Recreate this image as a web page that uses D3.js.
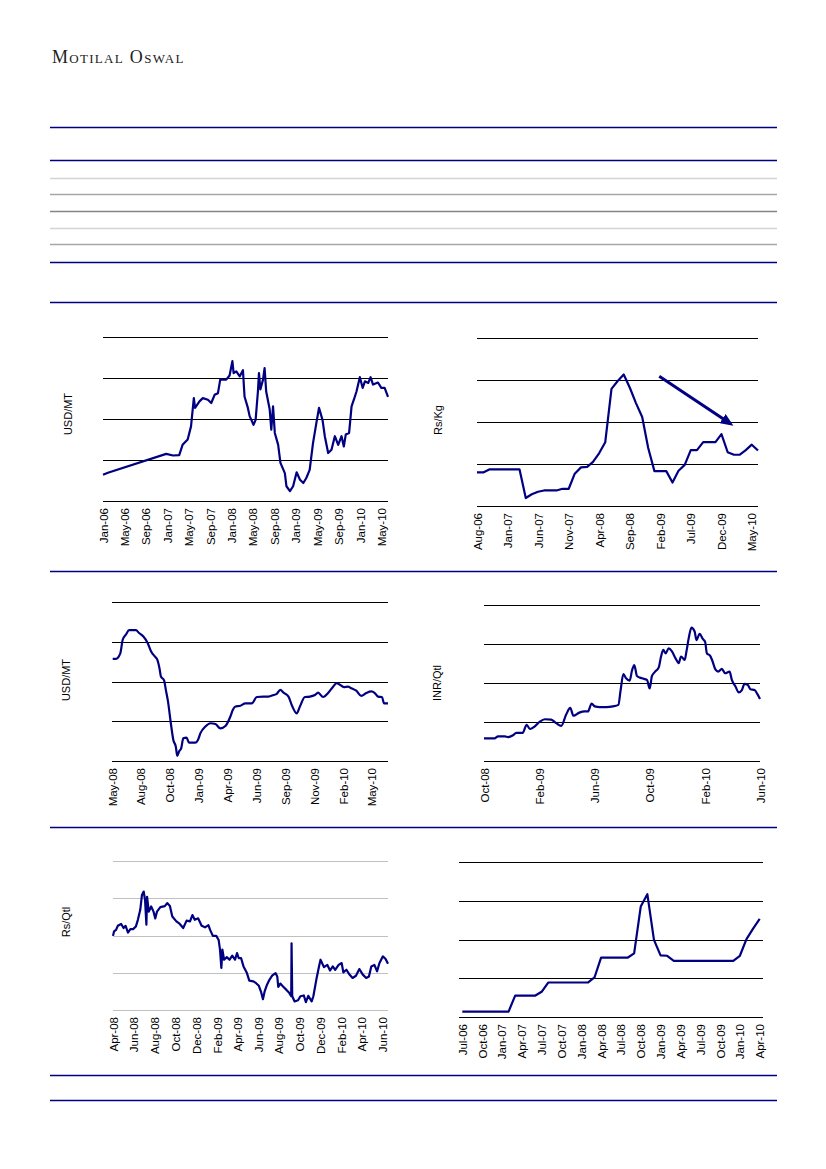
<!DOCTYPE html>
<html lang="en">

<head>
    <meta charset="UTF-8" />
    <script src="https://cdn.jsdelivr.net/npm/d3@7"></script>
    <title>Motilal Oswal - price charts</title>
    <style>
        body {
            margin: 0;
            background: #fff;
        }

        svg {
            display: block;
        }

        .tick text {
            font-family: "Liberation Sans", Arial, sans-serif;
            font-size: 11.5px;
            fill: #000;
        }
    </style>
</head>

<body>
    <svg width="826" height="1169"></svg>
</body>
<script>
    // values in grid units (0 = bottom line, 4 = top line)
    const yTicks = [0, 1, 2, 3, 4]

    // chart 1 - USD/MT
    const c1Dates = ["2006-01-01", "2006-01-29", "2006-12-26", "2007-02-03", "2007-03-10", "2007-03-29", "2007-04-27", "2007-05-16", "2007-06-01", "2007-06-08", "2007-07-03", "2007-07-22", "2007-08-20", "2007-09-08", "2007-09-27", "2007-10-16", "2007-10-29", "2007-12-02", "2007-12-21", "2008-01-06", "2008-01-13", "2008-01-28", "2008-02-17", "2008-03-06", "2008-03-15", "2008-04-03", "2008-04-13", "2008-05-05", "2008-05-17", "2008-05-30", "2008-06-05", "2008-06-13", "2008-06-28", "2008-07-07", "2008-07-16", "2008-08-05", "2008-08-14", "2008-08-24", "2008-09-03", "2008-09-22", "2008-10-05", "2008-10-30", "2008-11-08", "2008-11-28", "2008-12-16", "2009-01-05", "2009-01-24", "2009-02-12", "2009-03-01", "2009-03-20", "2009-04-08", "2009-04-27", "2009-05-12", "2009-06-01", "2009-06-14", "2009-07-03", "2009-07-22", "2009-08-10", "2009-08-29", "2009-09-17", "2009-09-30", "2009-10-11", "2009-10-30", "2009-11-13", "2009-11-26", "2009-12-11", "2009-12-30", "2010-01-15", "2010-01-28", "2010-02-16", "2010-03-01", "2010-03-15", "2010-04-12", "2010-05-01", "2010-05-20", "2010-06-08"]
    const c1Values = [0.64, 0.69, 1.15, 1.11, 1.12, 1.37, 1.50, 1.82, 2.51, 2.27, 2.43, 2.51, 2.47, 2.39, 2.59, 2.63, 2.96, 2.96, 3.06, 3.41, 3.12, 3.16, 3.04, 3.19, 2.55, 2.27, 2.07, 1.86, 1.98, 2.67, 3.12, 2.72, 2.96, 3.24, 2.67, 2.23, 1.74, 2.31, 1.66, 1.37, 0.93, 0.68, 0.36, 0.24, 0.36, 0.70, 0.52, 0.44, 0.56, 0.76, 1.41, 1.90, 2.27, 1.98, 1.58, 1.17, 1.25, 1.58, 1.37, 1.58, 1.33, 1.62, 1.66, 2.31, 2.47, 2.67, 3.02, 2.76, 2.92, 2.88, 3.02, 2.84, 2.89, 2.76, 2.76, 2.54]
    const c1TickLabels = ["Jan-06", "May-06", "Sep-06", "Jan-07", "May-07", "Sep-07", "Jan-08", "May-08", "Sep-08", "Jan-09", "May-09", "Sep-09", "Jan-10", "May-10"]

    // chart 2 - Rs/Kg, monthly
    const c2Months = ["Aug-06", "Sep-06", "Oct-06", "Nov-06", "Dec-06", "Jan-07", "Feb-07", "Mar-07", "Apr-07", "May-07", "Jun-07", "Jul-07", "Aug-07", "Sep-07", "Oct-07", "Nov-07", "Dec-07", "Jan-08", "Feb-08", "Mar-08", "Apr-08", "May-08", "Jun-08", "Jul-08", "Aug-08", "Sep-08", "Oct-08", "Nov-08", "Dec-08", "Jan-09", "Feb-09", "Mar-09", "Apr-09", "May-09", "Jun-09", "Jul-09", "Aug-09", "Sep-09", "Oct-09", "Nov-09", "Dec-09", "Jan-10", "Feb-10", "Mar-10", "Apr-10", "May-10", "Jun-10"]
    const c2Values = [0.80, 0.80, 0.87, 0.87, 0.87, 0.87, 0.87, 0.87, 0.19, 0.28, 0.34, 0.37, 0.37, 0.37, 0.41, 0.41, 0.77, 0.92, 0.93, 1.05, 1.26, 1.52, 2.79, 2.97, 3.13, 2.81, 2.45, 2.12, 1.38, 0.83, 0.83, 0.83, 0.56, 0.84, 0.98, 1.33, 1.33, 1.52, 1.52, 1.52, 1.71, 1.28, 1.22, 1.22, 1.33, 1.46, 1.32]
    const c2TickLabels = ["Aug-06", "Jan-07", "Jun-07", "Nov-07", "Apr-08", "Sep-08", "Feb-09", "Jul-09", "Dec-09", "May-10"]
    const c2ArrowDates = ["2009-01-25", "2010-01-17"]
    const c2ArrowValues = [3.09, 1.95]

    // chart 3 - USD/MT
    const c3Dates = ["2008-05-12", "2008-05-21", "2008-06-02", "2008-06-09", "2008-06-18", "2008-06-27", "2008-07-16", "2008-07-25", "2008-08-06", "2008-08-18", "2008-08-27", "2008-09-07", "2008-09-14", "2008-09-21", "2008-09-24", "2008-10-03", "2008-10-08", "2008-10-14", "2008-10-22", "2008-10-29", "2008-11-05", "2008-11-09", "2008-11-14", "2008-11-20", "2008-11-26", "2008-12-05", "2008-12-12", "2008-12-30", "2009-01-06", "2009-01-13", "2009-01-27", "2009-02-10", "2009-02-24", "2009-03-10", "2009-03-24", "2009-04-07", "2009-04-14", "2009-04-21", "2009-05-05", "2009-05-19", "2009-06-06", "2009-06-20", "2009-07-09", "2009-07-23", "2009-08-06", "2009-08-15", "2009-08-25", "2009-09-03", "2009-09-17", "2009-09-26", "2009-10-10", "2009-10-19", "2009-11-02", "2009-11-16", "2009-11-30", "2009-12-09", "2009-12-23", "2010-01-06", "2010-01-20", "2010-01-30", "2010-02-08", "2010-02-19", "2010-03-03", "2010-03-12", "2010-03-26", "2010-04-09", "2010-04-23", "2010-05-07", "2010-05-17", "2010-05-26", "2010-06-06", "2010-06-12", "2010-06-23"]
    const c3Values = [2.57, 2.57, 2.70, 3.05, 3.18, 3.29, 3.29, 3.22, 3.13, 2.97, 2.77, 2.63, 2.55, 2.29, 2.13, 2.03, 1.79, 1.50, 0.95, 0.53, 0.36, 0.13, 0.24, 0.32, 0.57, 0.59, 0.46, 0.46, 0.53, 0.70, 0.87, 0.95, 0.93, 0.82, 0.88, 1.12, 1.29, 1.37, 1.39, 1.45, 1.45, 1.61, 1.62, 1.62, 1.66, 1.69, 1.79, 1.72, 1.62, 1.41, 1.20, 1.37, 1.61, 1.62, 1.66, 1.72, 1.61, 1.71, 1.87, 1.96, 1.92, 1.86, 1.87, 1.83, 1.77, 1.64, 1.71, 1.75, 1.71, 1.62, 1.61, 1.45, 1.45]
    // the source axis places labels at an even step, not on month starts
    const c3TickDates = ["2008-05-10", "2008-07-30", "2008-10-19", "2009-01-08", "2009-03-30", "2009-06-19", "2009-09-08", "2009-11-28", "2010-02-17", "2010-05-09"]
    const c3TickLabels = ["May-08", "Aug-08", "Oct-08", "Jan-09", "Apr-09", "Jun-09", "Sep-09", "Nov-09", "Feb-10", "May-10"]

    // chart 4 - INR/Qtl
    const c4Dates = ["2008-10-01", "2008-10-24", "2008-11-01", "2008-11-16", "2008-11-23", "2008-12-04", "2008-12-11", "2008-12-25", "2009-01-03", "2009-01-10", "2009-01-21", "2009-02-01", "2009-02-12", "2009-02-26", "2009-03-09", "2009-03-20", "2009-03-31", "2009-04-09", "2009-04-16", "2009-04-29", "2009-05-11", "2009-05-18", "2009-05-26", "2009-06-02", "2009-06-13", "2009-06-28", "2009-07-12", "2009-07-24", "2009-07-29", "2009-08-04", "2009-08-10", "2009-08-18", "2009-08-23", "2009-08-28", "2009-09-03", "2009-09-14", "2009-09-25", "2009-10-01", "2009-10-06", "2009-10-13", "2009-10-21", "2009-10-26", "2009-10-31", "2009-11-05", "2009-11-12", "2009-11-19", "2009-11-27", "2009-12-04", "2009-12-09", "2009-12-17", "2009-12-21", "2009-12-26", "2010-01-01", "2010-01-08", "2010-01-12", "2010-01-19", "2010-01-26", "2010-01-31", "2010-02-04", "2010-02-11", "2010-02-16", "2010-02-23", "2010-03-01", "2010-03-09", "2010-03-16", "2010-03-26", "2010-03-31", "2010-04-08", "2010-04-15", "2010-04-22", "2010-04-28", "2010-05-05", "2010-05-11", "2010-05-20", "2010-05-26", "2010-06-01"]
    const c4Values = [0.58, 0.58, 0.63, 0.63, 0.61, 0.66, 0.72, 0.72, 0.93, 0.82, 0.89, 1.01, 1.07, 1.06, 0.97, 0.90, 1.19, 1.36, 1.16, 1.24, 1.27, 1.27, 1.47, 1.40, 1.38, 1.38, 1.40, 1.44, 1.82, 2.23, 2.12, 2.06, 2.32, 2.46, 2.18, 2.12, 2.08, 1.86, 2.18, 2.29, 2.40, 2.68, 2.85, 2.76, 2.89, 2.81, 2.63, 2.51, 2.68, 2.59, 2.81, 3.15, 3.42, 3.32, 3.10, 3.26, 3.13, 3.06, 2.76, 2.70, 2.57, 2.34, 2.29, 2.36, 2.25, 2.29, 2.08, 1.91, 1.76, 1.82, 1.98, 1.95, 1.84, 1.82, 1.72, 1.59]
    const c4TickLabels = ["Oct-08", "Feb-09", "Jun-09", "Oct-09", "Feb-10", "Jun-10"]

    // chart 5 - Rs/Qtl
    const c5Dates = ["2008-04-01", "2008-04-04", "2008-04-10", "2008-04-15", "2008-04-25", "2008-05-02", "2008-05-08", "2008-05-15", "2008-05-22", "2008-05-30", "2008-06-07", "2008-06-13", "2008-06-20", "2008-06-25", "2008-06-30", "2008-07-04", "2008-07-08", "2008-07-10", "2008-07-15", "2008-07-22", "2008-07-29", "2008-08-03", "2008-08-08", "2008-08-18", "2008-08-31", "2008-09-07", "2008-09-15", "2008-09-22", "2008-10-04", "2008-10-14", "2008-10-24", "2008-11-03", "2008-11-13", "2008-11-20", "2008-11-27", "2008-12-07", "2008-12-17", "2008-12-27", "2009-01-06", "2009-01-11", "2009-01-19", "2009-01-29", "2009-02-05", "2009-02-09", "2009-02-13", "2009-02-16", "2009-02-21", "2009-03-01", "2009-03-09", "2009-03-17", "2009-03-25", "2009-03-31", "2009-04-05", "2009-04-12", "2009-04-19", "2009-04-29", "2009-05-06", "2009-05-18", "2009-05-26", "2009-06-03", "2009-06-10", "2009-06-15", "2009-06-20", "2009-06-27", "2009-07-04", "2009-07-12", "2009-07-22", "2009-07-27", "2009-07-30", "2009-08-05", "2009-08-13", "2009-08-23", "2009-08-31", "2009-09-06", "2009-09-07", "2009-09-09", "2009-09-16", "2009-09-26", "2009-10-03", "2009-10-13", "2009-10-19", "2009-10-26", "2009-11-05", "2009-11-10", "2009-11-19", "2009-11-27", "2009-12-01", "2009-12-11", "2009-12-21", "2009-12-29", "2010-01-06", "2010-01-13", "2010-01-23", "2010-02-01", "2010-02-06", "2010-02-15", "2010-02-24", "2010-03-05", "2010-03-15", "2010-03-25", "2010-04-04", "2010-04-14", "2010-04-22", "2010-04-29", "2010-05-08", "2010-05-16", "2010-05-23", "2010-06-02", "2010-06-10", "2010-06-17"]
    const c5Values = [1.99, 2.11, 2.15, 2.26, 2.31, 2.20, 2.26, 2.08, 2.17, 2.17, 2.24, 2.42, 2.69, 3.09, 3.18, 2.96, 2.29, 3.04, 2.64, 2.78, 2.64, 2.46, 2.64, 2.76, 2.79, 2.87, 2.79, 2.51, 2.38, 2.31, 2.20, 2.40, 2.38, 2.55, 2.42, 2.46, 2.26, 2.22, 2.28, 2.15, 1.99, 1.99, 1.88, 1.62, 1.13, 1.62, 1.35, 1.42, 1.35, 1.46, 1.35, 1.53, 1.39, 1.39, 1.17, 0.99, 0.79, 0.77, 0.72, 0.65, 0.47, 0.29, 0.50, 0.68, 0.81, 0.92, 0.99, 0.90, 0.62, 0.71, 0.63, 0.54, 0.46, 0.37, 1.79, 0.37, 0.23, 0.26, 0.37, 0.39, 0.21, 0.38, 0.23, 0.37, 0.83, 1.19, 1.35, 1.15, 1.21, 1.06, 1.17, 1.08, 1.21, 1.26, 1.01, 1.08, 0.95, 0.86, 0.92, 1.10, 0.95, 0.86, 0.90, 1.17, 1.21, 1.04, 1.26, 1.44, 1.37, 1.24]
    const c5TickLabels = ["Apr-08", "Jun-08", "Aug-08", "Oct-08", "Dec-08", "Feb-09", "Apr-09", "Jun-09", "Aug-09", "Oct-09", "Dec-09", "Feb-10", "Apr-10", "Jun-10"]

    // chart 6 - monthly categories
    const c6Months = ["Jul-06", "Aug-06", "Sep-06", "Oct-06", "Nov-06", "Dec-06", "Jan-07", "Feb-07", "Mar-07", "Apr-07", "May-07", "Jun-07", "Jul-07", "Aug-07", "Sep-07", "Oct-07", "Nov-07", "Dec-07", "Jan-08", "Feb-08", "Mar-08", "Apr-08", "May-08", "Jun-08", "Jul-08", "Aug-08", "Sep-08", "Oct-08", "Nov-08", "Dec-08", "Jan-09", "Feb-09", "Mar-09", "Apr-09", "May-09", "Jun-09", "Jul-09", "Aug-09", "Sep-09", "Oct-09", "Nov-09", "Dec-09", "Jan-10", "Feb-10", "Mar-10", "Apr-10"]
    const c6Values = [0.14, 0.14, 0.14, 0.14, 0.14, 0.14, 0.14, 0.14, 0.55, 0.55, 0.55, 0.55, 0.65, 0.89, 0.89, 0.89, 0.89, 0.89, 0.89, 0.89, 1.02, 1.53, 1.53, 1.53, 1.53, 1.53, 1.64, 2.85, 3.17, 1.99, 1.59, 1.58, 1.45, 1.45, 1.45, 1.45, 1.45, 1.45, 1.45, 1.45, 1.45, 1.45, 1.58, 2.01, 2.28, 2.53]
    const c6TickLabels = ["Jul-06", "Oct-06", "Jan-07", "Apr-07", "Jul-07", "Oct-07", "Jan-08", "Apr-08", "Jul-08", "Oct-08", "Jan-09", "Apr-09", "Jul-09", "Oct-09", "Jan-10", "Apr-10"]

    const navy = "#000080"
    const parseDay = d3.timeParse("%Y-%m-%d")
    const parseMon = d3.timeParse("%b-%y")
    const svg = d3.select("svg")

    // page header and rules
    svg.append("text").attr("x", 52).attr("y", 63)
        .attr("font-family", "'Liberation Serif', 'Times New Roman', serif").attr("font-size", 18)
        .attr("font-variant", "small-caps").attr("letter-spacing", 1.3).attr("fill", "#222")
        .text("Motilal Oswal")

    const rules = [
        [127, navy], [160, navy], [178, "#d4d4d4"], [194, "#a6a6a6"], [211, "#858585"], [228, "#d4d4d4"], [244, "#a6a6a6"],
        [262, navy], [302, navy], [571, navy], [827, navy], [1075, navy], [1100, navy]
    ]
    svg.append("g").selectAll("line").data(rules).join("line")
        .attr("x1", 50).attr("x2", 777).attr("y1", d => d[0] + 0.5).attr("y2", d => d[0] + 0.5)
        .attr("stroke", d => d[1]).attr("stroke-width", 1.3)

    svg.append("defs").append("marker").attr("id", "head")
        .attr("markerUnits", "userSpaceOnUse").attr("markerWidth", 13).attr("markerHeight", 11)
        .attr("refX", 10).attr("refY", 5.5).attr("orient", "auto")
        .append("path").attr("d", "M0,0L13,5.5L0,11z").attr("fill", navy)

    function drawChart(c) {
        const g = svg.append("g")
        const y = d3.scaleLinear().domain([0, 4]).range([c.bottom, c.top])

        g.append("g").selectAll("line").data(yTicks).join("line")
            .attr("x1", c.left).attr("x2", c.right)
            .attr("y1", d => Math.round(y(d)) + 0.5).attr("y2", d => Math.round(y(d)) + 0.5)
            .attr("stroke", c.grid || "#000").attr("stroke-width", 1)

        const axis = d3.axisBottom(c.x).tickValues(c.tickValues).tickSize(0)
            .tickFormat((d, i) => c.tickLabels[i])
        g.append("g").attr("transform", `translate(0,${c.bottom})`).call(axis)
            .call(a => a.select(".domain").remove())
            .call(a => a.selectAll("text").attr("transform", "rotate(-90)")
                .attr("x", -7).attr("y", 0).attr("dy", "0.35em").attr("text-anchor", "end"))

        const line = d3.line().x(d => c.x(d[0])).y(d => y(d[1])).curve(c.curve || d3.curveLinear)
        g.append("path").datum(c.points).attr("d", line)
            .attr("fill", "none").attr("stroke", navy).attr("stroke-width", 2.2)
            .attr("stroke-linejoin", "round")

        if (c.label) {
            g.append("text").attr("transform", `translate(${c.label[0]},${c.label[1]}) rotate(-90)`)
                .attr("text-anchor", "middle").attr("dy", "0.35em")
                .attr("font-family", "'Liberation Sans', Arial, sans-serif").attr("font-size", 11)
                .text(c.label[2])
        }
        return { g, y }
    }

    const timeX = (dates, ticks, range) => d3.scaleTime().domain(d3.extent(dates.concat(ticks))).range(range)

    // chart 1
    {
        const dates = c1Dates.map(parseDay), ticks = c1TickLabels.map(parseMon)
        drawChart({
            x: timeX(dates, ticks, [103, 388]), left: 103, right: 388, top: 337, bottom: 501,
            points: d3.zip(dates, c1Values), tickValues: ticks, tickLabels: c1TickLabels,
            label: [68, 414, "USD/MT"]
        })
    }

    // chart 2 with arrow
    {
        const dates = c2Months.map(parseMon), ticks = c2TickLabels.map(parseMon)
        const x = timeX(dates, ticks, [477, 758])
        const { g, y } = drawChart({
            x, left: 477, right: 758, top: 338, bottom: 506,
            points: d3.zip(dates, c2Values), tickValues: ticks, tickLabels: c2TickLabels,
            label: [438, 420, "Rs/Kg"]
        })
        const a = c2ArrowDates.map(parseDay)
        g.append("line").attr("x1", x(a[0])).attr("y1", y(c2ArrowValues[0]))
            .attr("x2", x(a[1])).attr("y2", y(c2ArrowValues[1]))
            .attr("stroke", navy).attr("stroke-width", 3).attr("marker-end", "url(#head)")
    }

    // chart 3
    {
        const dates = c3Dates.map(parseDay), ticks = c3TickDates.map(parseDay)
        drawChart({
            x: timeX(dates, ticks, [112, 388]), left: 112, right: 388, top: 602, bottom: 761,
            points: d3.zip(dates, c3Values), tickValues: ticks, tickLabels: c3TickLabels,
            label: [66, 680, "USD/MT"], curve: d3.curveMonotoneX
        })
    }

    // chart 4
    {
        const dates = c4Dates.map(parseDay), ticks = c4TickLabels.map(parseMon)
        drawChart({
            x: timeX(dates, ticks, [484, 760]), left: 484, right: 760, top: 605, bottom: 761,
            points: d3.zip(dates, c4Values), tickValues: ticks, tickLabels: c4TickLabels,
            label: [437, 683, "INR/Qtl"], curve: d3.curveMonotoneX
        })
    }

    // chart 5
    {
        const dates = c5Dates.map(parseDay), ticks = c5TickLabels.map(parseMon)
        drawChart({
            x: timeX(dates, ticks, [113, 388]), left: 113, right: 388, top: 861, bottom: 1010,
            points: d3.zip(dates, c5Values), tickValues: ticks, tickLabels: c5TickLabels,
            label: [66, 922, "Rs/Qtl"], grid: "#c0c0c0"
        })
    }

    // chart 6
    {
        const x = d3.scalePoint().domain(c6Months).range([459, 763]).padding(0.5)
        drawChart({
            x, left: 459, right: 763, top: 862, bottom: 1017,
            points: d3.zip(c6Months, c6Values), tickValues: c6TickLabels, tickLabels: c6TickLabels
        })
    }
</script>

</html>
